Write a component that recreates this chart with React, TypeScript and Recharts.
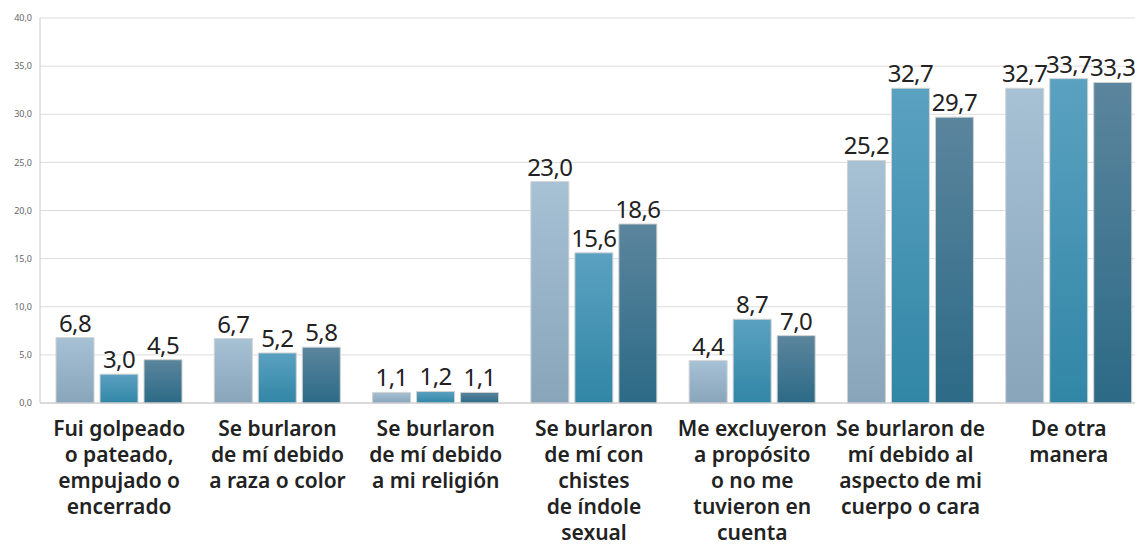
import React from "react";
import { BarChart, Bar, XAxis, YAxis, CartesianGrid, LabelList } from "recharts";

const categories = [
  "Fui golpeado\no pateado,\nempujado o\nencerrado",
  "Se burlaron\nde mí debido\na raza o color",
  "Se burlaron\nde mí debido\na mi religión",
  "Se burlaron\nde mí con\nchistes\nde índole\nsexual",
  "Me excluyeron\na propósito\no no me\ntuvieron en\ncuenta",
  "Se burlaron de\nmí debido al\naspecto de mi\ncuerpo o cara",
  "De otra\nmanera",
];

const serieA = [6.8, 6.7, 1.1, 23.0, 4.4, 25.2, 32.7];
const serieB = [3.0, 5.2, 1.2, 15.6, 8.7, 32.7, 33.7];
const serieC = [4.5, 5.8, 1.1, 18.6, 7.0, 29.7, 33.3];

const yTicks = [0, 5, 10, 15, 20, 25, 30, 35, 40];

const data = categories.map((name, i) => ({
  name,
  a: serieA[i],
  b: serieB[i],
  c: serieC[i],
}));

const fmt = (v: number) => v.toFixed(1).replace(".", ",");

const CategoryTick = ({ x, y, payload }: any) => {
  const lines = String(payload.value).split("\n");
  return (
    <text
      x={x}
      y={y}
      textAnchor="middle"
      fill="#222"
      fontSize={21}
      fontWeight={600}
      fontFamily="'Noto Sans', sans-serif"
    >
      {lines.map((l: string, i: number) => (
        <tspan key={i} x={x} y={y + 25 + i * 26}>
          {l}
        </tspan>
      ))}
    </text>
  );
};

const ValueLabel = ({ x, y, width, value }: any) => (
  <text
    x={x + width / 2}
    y={y - 6}
    textAnchor="middle"
    fill="#222"
    fontSize={24}
    letterSpacing={-0.6}
    fontFamily="'Noto Sans', sans-serif"
  >
    {fmt(Number(value))}
  </text>
);

export default function App() {
  return (
    <div
      style={{
        position: "absolute",
        left: 0,
        top: 0,
        width: 1135,
        height: 559,
        overflow: "hidden",
        background: "#fff",
      }}
    >
      <BarChart
        width={1148}
        height={559}
        data={data}
        margin={{ top: 18, right: 0, left: 0, bottom: 0 }}
        barGap={6}
        barCategoryGap={16}
      >
        <defs>
          <linearGradient id="gA" x1="0" y1="0" x2="0" y2="1">
            <stop offset="0%" stopColor="#a7c1d5" />
            <stop offset="100%" stopColor="#88a5ba" />
          </linearGradient>
          <linearGradient id="gB" x1="0" y1="0" x2="0" y2="1">
            <stop offset="0%" stopColor="#5ba1c1" />
            <stop offset="100%" stopColor="#3186a6" />
          </linearGradient>
          <linearGradient id="gC" x1="0" y1="0" x2="0" y2="1">
            <stop offset="0%" stopColor="#5b859d" />
            <stop offset="100%" stopColor="#2c6a86" />
          </linearGradient>
        </defs>
        <CartesianGrid vertical={false} stroke="#dcdcdc" />
        <XAxis
          dataKey="name"
          height={156}
          interval={0}
          tickLine={false}
          axisLine={{ stroke: "#c8c8c8" }}
          tick={<CategoryTick />}
        />
        <YAxis
          width={40}
          domain={[0, 40]}
          ticks={yTicks}
          tickFormatter={fmt}
          tickLine={false}
          axisLine={{ stroke: "#c8c8c8" }}
          tick={{ fontSize: 9, fill: "#666", fontFamily: "'Noto Sans', sans-serif" }}
        />
        <Bar dataKey="a" fill="url(#gA)" stroke="#d2d2d2" isAnimationActive={false}>
          <LabelList dataKey="a" content={<ValueLabel />} />
        </Bar>
        <Bar dataKey="b" fill="url(#gB)" stroke="#d2d2d2" isAnimationActive={false}>
          <LabelList dataKey="b" content={<ValueLabel />} />
        </Bar>
        <Bar dataKey="c" fill="url(#gC)" stroke="#d2d2d2" isAnimationActive={false}>
          <LabelList dataKey="c" content={<ValueLabel />} />
        </Bar>
      </BarChart>
    </div>
  );
}
